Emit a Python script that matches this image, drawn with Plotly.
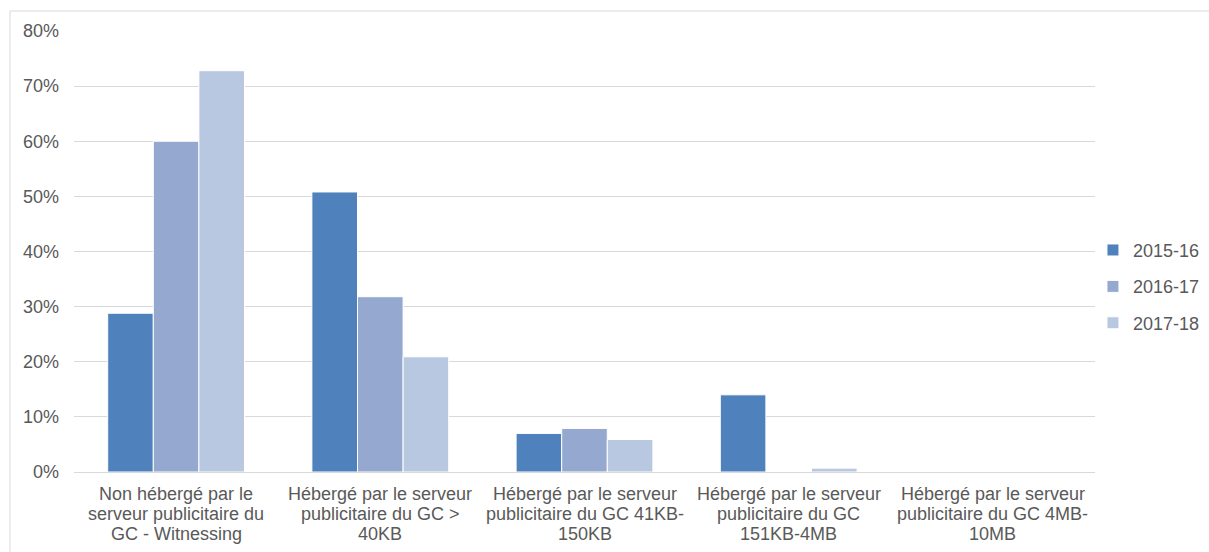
import plotly.graph_objects as go

# Category labels, broken into the lines they are printed on
categories = [
    "Non hébergé par le serveur publicitaire du GC - Witnessing",
    "Hébergé par le serveur publicitaire du GC > 40KB",
    "Hébergé par le serveur publicitaire du GC 41KB-150KB",
    "Hébergé par le serveur publicitaire du GC 151KB-4MB",
    "Hébergé par le serveur publicitaire du GC 4MB-10MB",
]
category_lines = [
    ["Non hébergé par le", "serveur publicitaire du", "GC - Witnessing"],
    ["Hébergé par le serveur", "publicitaire du GC >", "40KB"],
    ["Hébergé par le serveur", "publicitaire du GC 41KB-", "150KB"],
    ["Hébergé par le serveur", "publicitaire du GC", "151KB-4MB"],
    ["Hébergé par le serveur", "publicitaire du GC 4MB-", "10MB"],
]

# Share of ads per fiscal year
years = ["2015-16", "2016-17", "2017-18"]
values_2015_16 = [0.288, 0.508, 0.070, 0.140, 0.0]
values_2016_17 = [0.600, 0.318, 0.079, 0.0, 0.0]
values_2017_18 = [0.728, 0.209, 0.059, 0.007, 0.0]
series = [values_2015_16, values_2016_17, values_2017_18]
colors = ["#4F81BD", "#95A9D0", "#B9C8E1"]

y_ticks = [0, 0.1, 0.2, 0.3, 0.4, 0.5, 0.6, 0.7, 0.8]

text_color = "#595959"
grid_color = "#D9D9D9"
font_family = "Liberation Sans, Arial, sans-serif"

fig = go.Figure()
for name, vals, col in zip(years, series, colors):
    fig.add_trace(go.Bar(
        x=categories, y=vals, name=name, legendgroup=name,
        marker=dict(color=col, line=dict(color="white", width=1)),
    ))

# Multi-line category labels under each group
plot_h = 552 - 31 - 80
plot_w = 1209 - 74 - 114
annotations = []
for cat, lines in zip(categories, category_lines):
    for i, line in enumerate(lines):
        annotations.append(dict(
            x=cat, xref="x", y=-(22 + 20 * i) / plot_h, yref="paper",
            text=line, showarrow=False, xanchor="center", yanchor="middle",
            font=dict(size=18, color=text_color, family=font_family),
        ))

fig.update_layout(
    width=1209, height=552,
    margin=dict(l=74, r=114, t=31, b=80, autoexpand=False),
    paper_bgcolor="white", plot_bgcolor="white",
    barmode="group", bargap=0.33, bargroupgap=0,
    font=dict(family=font_family, size=18, color=text_color),
    showlegend=True,
    legend=dict(
        x=0.998, xanchor="left", y=0.42, yanchor="middle",
        font=dict(size=18, color=text_color),
        tracegroupgap=10, itemwidth=30,
        bgcolor="rgba(0,0,0,0)",
    ),
    annotations=annotations,
    shapes=[dict(
        type="rect", xref="paper", yref="paper",
        x0=(10 - 74) / plot_w, x1=1.2,
        y0=-0.5, y1=(472 - 11) / plot_h,
        line=dict(color=grid_color, width=1), fillcolor="rgba(0,0,0,0)",
        layer="below",
    )],
)
fig.update_xaxes(showticklabels=False, showgrid=False, showline=False, ticks="")
fig.update_yaxes(
    range=[0, 0.8], tickvals=y_ticks, tickformat=".0%",
    showgrid=True, gridcolor=grid_color, gridwidth=1,
    zeroline=True, zerolinecolor=grid_color, zerolinewidth=1,
    showline=False, ticks="", ticklabelstandoff=14,
    tickfont=dict(size=18, color=text_color, family=font_family),
)

fig.write_html("out.html")
